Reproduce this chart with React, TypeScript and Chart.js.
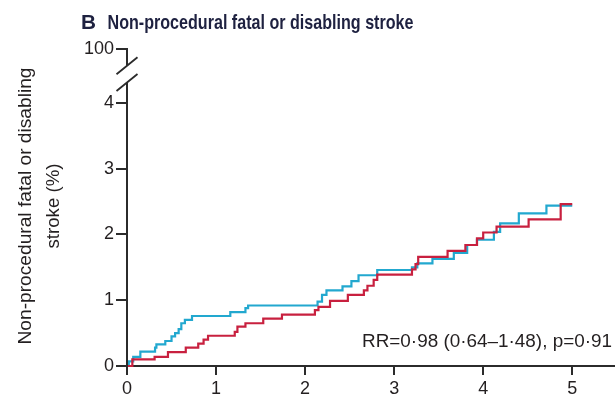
import React, { useEffect, useRef } from 'react';
import { Chart, registerables } from 'chart.js';

Chart.register(...registerables);

// ---- text ----
const titleLetter = 'B';
const titleText = 'Non-procedural fatal or disabling stroke';
const yTitleLines = ['Non-procedural fatal or disabling', 'stroke (%)'];
const annotationText = 'RR=0·98 (0·64–1·48), p=0·91';

// ---- ticks ----
const xTicks = [0, 1, 2, 3, 4, 5];
const yTicks = [0, 1, 2, 3, 4];
const yBreakTickValue = 4.82; // scale position of the broken-axis top tick
const yBreakTickLabel = '100';
const yBreakLow = 4.31;
const yBreakHigh = 4.565;
const xMax = 5.48;

// ---- series (years, cumulative %) ----
const redTimes = [0, 0.06, 0.31, 0.46, 0.66, 0.8, 0.86, 0.91, 1.21, 1.24, 1.33, 1.53, 1.74, 2.11, 2.15, 2.28, 2.48, 2.66, 2.7, 2.77, 2.81, 3.2, 3.24, 3.27, 3.6, 3.8, 3.93, 4.0, 4.15, 4.51, 4.87, 5.0];
const redValues = [0, 0.1, 0.14, 0.21, 0.28, 0.34, 0.4, 0.46, 0.52, 0.6, 0.65, 0.72, 0.78, 0.85, 0.9, 0.99, 1.08, 1.15, 1.22, 1.31, 1.39, 1.47, 1.55, 1.66, 1.75, 1.84, 1.94, 2.03, 2.12, 2.23, 2.46, 2.46];

const cyanTimes = [0, 0.02, 0.07, 0.15, 0.315, 0.33, 0.43, 0.5, 0.54, 0.58, 0.61, 0.65, 0.73, 1.16, 1.33, 1.36, 2.14, 2.19, 2.24, 2.42, 2.52, 2.6, 2.81, 3.2, 3.26, 3.43, 3.67, 3.82, 3.93, 4.12, 4.19, 4.4, 4.71, 5.0];
const cyanValues = [0, 0.07, 0.14, 0.22, 0.28, 0.33, 0.38, 0.45, 0.5, 0.56, 0.65, 0.7, 0.76, 0.82, 0.88, 0.92, 0.98, 1.08, 1.15, 1.21, 1.29, 1.38, 1.46, 1.5, 1.56, 1.63, 1.72, 1.84, 1.92, 2.04, 2.17, 2.32, 2.44, 2.44];

const RED = '#c8203f';
const CYAN = '#22a8cf';
const INK = '#231f20';
const AXIS = '#2b2b2b';
const FONT = '"Liberation Sans", Arial, sans-serif';

function fitText(ctx: CanvasRenderingContext2D, text: string, x: number, y: number, width: number, font: string, align: 'left' | 'center' = 'left') {
  ctx.save();
  ctx.font = font;
  ctx.textAlign = 'left';
  ctx.textBaseline = 'alphabetic';
  const w = ctx.measureText(text).width;
  const s = width / w;
  ctx.translate(align === 'center' ? x - width / 2 : x, y);
  ctx.scale(s, 1);
  ctx.fillText(text, 0, 0);
  ctx.restore();
}

const decorPlugin = {
  id: 'decor',
  afterDraw(chart: any) {
    const ctx: CanvasRenderingContext2D = chart.ctx;
    const ys = chart.scales.y;
    const left = chart.chartArea.left;
    const bottom = chart.chartArea.bottom;
    const topY = ys.getPixelForValue(yBreakTickValue);
    const hiY = ys.getPixelForValue(yBreakHigh);
    const loY = ys.getPixelForValue(yBreakLow);

    // broken y axis line
    ctx.save();
    ctx.strokeStyle = AXIS;
    ctx.lineWidth = 2;
    ctx.beginPath();
    ctx.moveTo(left, bottom + 1);
    ctx.lineTo(left, loY);
    ctx.moveTo(left, hiY);
    ctx.lineTo(left, topY - 1);
    ctx.stroke();
    // slashes
    ctx.lineWidth = 1.8;
    ctx.beginPath();
    for (const cy of [loY, hiY]) {
      ctx.moveTo(left - 10.5, cy + 8.5);
      ctx.lineTo(left + 10.5, cy - 8.5);
    }
    ctx.stroke();
    ctx.restore();

    // title
    ctx.save();
    ctx.fillStyle = '#1e2140';
    fitText(ctx, titleLetter, 81, 28.5, 15, `bold 21px ${FONT}`);
    fitText(ctx, titleText, 107.5, 28.5, 306, `bold 21px ${FONT}`);
    ctx.restore();

    // y title (rotated)
    ctx.save();
    ctx.fillStyle = INK;
    ctx.translate(31, 206);
    ctx.rotate(-Math.PI / 2);
    fitText(ctx, yTitleLines[0], 0, 0, 277, `18px ${FONT}`, 'center');
    ctx.restore();
    ctx.save();
    ctx.fillStyle = INK;
    ctx.translate(59, 206);
    ctx.rotate(-Math.PI / 2);
    fitText(ctx, yTitleLines[1], 0, 0, 85, `18px ${FONT}`, 'center');
    ctx.restore();

    // annotation
    ctx.save();
    ctx.fillStyle = INK;
    fitText(ctx, annotationText, 362, 346.5, 250, `17.5px ${FONT}`);
    ctx.restore();
  },
};

export default function App() {
  const ref = useRef<HTMLCanvasElement | null>(null);

  useEffect(() => {
    if (!ref.current) return;
    const redData = redTimes.map((t, i) => ({ x: t, y: redValues[i] }));
    const cyanData = cyanTimes.map((t, i) => ({ x: t, y: cyanValues[i] }));

    const chart = new Chart(ref.current, {
      type: 'line',
      data: {
        datasets: [
          { label: 'red', data: redData, borderColor: RED, borderWidth: 2.2, pointRadius: 0, stepped: true, fill: false, clip: 6 } as any,
          { label: 'cyan', data: cyanData, borderColor: CYAN, borderWidth: 2.2, pointRadius: 0, stepped: true, fill: false, clip: 6 } as any,
        ],
      },
      options: {
        animation: false,
        responsive: false,
        devicePixelRatio: 1,
        layout: { padding: { top: 49, right: 0, left: 0, bottom: 0 } },
        plugins: { legend: { display: false }, tooltip: { enabled: false }, title: { display: false } },
        scales: {
          x: {
            type: 'linear',
            min: 0,
            max: xMax,
            afterBuildTicks: (s: any) => { s.ticks = xTicks.map((v) => ({ value: v })); },
            afterFit: (s: any) => { s.height = 35; s.paddingLeft = 0; s.paddingRight = 0; s.paddingTop = 0; s.paddingBottom = 0; },
            ticks: { color: INK, font: { family: FONT, size: 18 }, padding: 3, maxRotation: 0, autoSkip: false, callback: (v: any) => String(v) },
            grid: { drawOnChartArea: false, drawTicks: true, tickLength: 9, color: AXIS, lineWidth: 2 },
            border: { display: true, color: AXIS, width: 2 },
          },
          y: {
            type: 'linear',
            min: 0,
            max: yBreakTickValue,
            afterBuildTicks: (s: any) => { s.ticks = [...yTicks, yBreakTickValue].map((v) => ({ value: v })); },
            afterFit: (s: any) => { s.width = 127; s.paddingLeft = 0; s.paddingRight = 0; s.paddingTop = 0; s.paddingBottom = 0; },
            ticks: {
              color: INK, font: { family: FONT, size: 18 }, padding: 2, autoSkip: false,
              callback: (v: any) => (v === yBreakTickValue ? yBreakTickLabel : String(v)),
            },
            grid: { drawOnChartArea: false, drawTicks: true, tickLength: 11, color: AXIS, lineWidth: 2 },
            border: { display: false },
          },
        },
      },
      plugins: [decorPlugin],
    });
    return () => chart.destroy();
  }, []);

  return (
    <div style={{ position: 'absolute', left: 0, top: 0, width: 615, height: 401, background: '#fff' }}>
      <canvas ref={ref} width={615} height={401} style={{ display: 'block', width: 615, height: 401 }} />
    </div>
  );
}
